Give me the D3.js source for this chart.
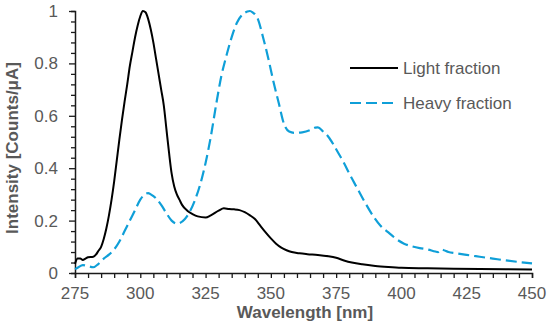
<!DOCTYPE html>
<html>
<head>
<meta charset="utf-8">
<script src="https://cdn.jsdelivr.net/npm/d3@7"></script>
<style>
    html, body { margin: 0; padding: 0; background: #fff; }
    svg { display: block; font-family: "Liberation Sans", Arial, sans-serif; }
    .tick-label { fill: #595959; font-size: 17px; }
    .axis-title { fill: #595959; font-size: 17px; font-weight: bold; }
</style>
</head>
<body>
<svg id="chart" width="550" height="329"></svg>
<script>
// Spectra
const lightWl = [275, 276, 277, 278, 279, 280, 282, 283, 284, 285, 286, 287, 288, 289, 290, 291, 292, 293, 294, 295, 296, 297, 298, 299, 300, 301, 302, 303, 304, 305, 306, 307, 308, 309, 310, 311, 312, 313, 314, 315, 316, 318, 320, 322, 325, 327, 330, 332, 334, 336, 338, 340, 342, 344, 346, 348, 350, 352, 354, 356, 358, 361, 364, 368, 372, 375, 378, 381, 385, 390, 395, 400, 410, 420, 430, 440, 450];
const lightVals = [0.035, 0.055, 0.055, 0.05, 0.055, 0.06, 0.062, 0.07, 0.085, 0.1, 0.13, 0.17, 0.22, 0.28, 0.35, 0.43, 0.51, 0.585, 0.655, 0.72, 0.79, 0.845, 0.9, 0.945, 0.98, 1.0, 0.995, 0.97, 0.93, 0.88, 0.82, 0.76, 0.7, 0.64, 0.55, 0.46, 0.38, 0.33, 0.3, 0.28, 0.26, 0.238, 0.225, 0.216, 0.212, 0.22, 0.238, 0.247, 0.244, 0.243, 0.24, 0.232, 0.22, 0.205, 0.18, 0.155, 0.132, 0.112, 0.097, 0.087, 0.08, 0.075, 0.072, 0.069, 0.064, 0.058, 0.048, 0.04, 0.033, 0.027, 0.023, 0.02, 0.018, 0.016, 0.015, 0.014, 0.013];

const heavyWl = [275, 276, 278, 280, 282, 284, 286, 288, 290, 292, 294, 296, 298, 300, 302, 303, 304, 306, 308, 310, 312, 314, 315, 317, 319, 321, 323, 325, 327, 329, 331, 333, 335, 337, 339, 341, 342, 343, 345, 347, 349, 351, 353, 355, 357, 359, 362, 365, 367, 368, 370, 372, 374, 376, 378, 380, 383, 386, 389, 392, 395, 398, 401, 404, 407, 410, 413, 414, 415, 416, 418, 421, 425, 430, 435, 440, 445, 450];
const heavyVals = [0.015, 0.02, 0.03, 0.026, 0.022, 0.035, 0.055, 0.07, 0.09, 0.12, 0.16, 0.2, 0.24, 0.28, 0.302, 0.305, 0.3, 0.285, 0.26, 0.228, 0.2, 0.188, 0.19, 0.205, 0.235, 0.28, 0.34, 0.42, 0.52, 0.64, 0.75, 0.83, 0.9, 0.955, 0.985, 0.998, 1.0, 0.995, 0.97, 0.9, 0.82, 0.73, 0.65, 0.57, 0.54, 0.535, 0.537, 0.545, 0.555, 0.556, 0.54, 0.52, 0.49, 0.455, 0.42, 0.38, 0.325, 0.27, 0.22, 0.18, 0.155, 0.13, 0.112, 0.102, 0.095, 0.09, 0.082, 0.08, 0.09, 0.088, 0.08, 0.075, 0.069, 0.062, 0.055, 0.048, 0.042, 0.037];

const xTicks = [275, 300, 325, 350, 375, 400, 425, 450];
const yTicks = [0, 0.2, 0.4, 0.6, 0.8, 1];
const yTickLabels = ['0', '0.2', '0.4', '0.6', '0.8', '1'];
const seriesNames = ['Light fraction', 'Heavy fraction'];

(function() {
    'use strict';

    const svg = d3.select('#chart');
    const axisColor = '#1a1a1a';
    const lightColor = '#000000';
    const heavyColor = '#0f9fd8';

    const x = d3.scaleLinear().domain([275, 450]).range([75, 532]);
    const y = d3.scaleLinear().domain([0, 1]).range([273, 11]);

    // Axes (minor ticks every 5 nm / 0.04)
    const xAxis = d3.axisBottom(x)
        .tickValues(d3.range(275, 451, 5))
        .tickSize(5)
        .tickFormat('');
    const xg = svg.append('g').attr('transform', `translate(0, ${y(0)})`).call(xAxis);
    xg.select('.domain').attr('stroke', axisColor).attr('stroke-width', 1.5);
    xg.selectAll('.tick line').attr('stroke', axisColor).attr('stroke-width', 1.3);

    const yMinor = d3.range(0, 1.0001, 0.04);
    const yAxis = d3.axisLeft(y)
        .tickValues(yMinor)
        .tickSize(4)
        .tickFormat('');
    const yg = svg.append('g').attr('transform', `translate(${x(275)}, 0)`).call(yAxis);
    yg.select('.domain').attr('stroke', axisColor).attr('stroke-width', 1.5);
    yg.selectAll('.tick line').attr('stroke', axisColor).attr('stroke-width', 1.3)
        .attr('x2', d => yTicks.some(t => Math.abs(t - d) < 1e-6) ? -6 : -4);

    // Tick labels
    svg.append('g').selectAll('text')
        .data(xTicks)
        .join('text')
        .attr('class', 'tick-label')
        .attr('x', d => x(d))
        .attr('y', 299)
        .attr('text-anchor', 'middle')
        .text(d => d);

    svg.append('g').selectAll('text')
        .data(yTicks)
        .join('text')
        .attr('class', 'tick-label')
        .attr('x', 58)
        .attr('y', d => y(d) + 6)
        .attr('text-anchor', 'end')
        .text((d, i) => yTickLabels[i]);

    // Axis titles
    svg.append('text')
        .attr('class', 'axis-title')
        .attr('x', 305)
        .attr('y', 318)
        .attr('text-anchor', 'middle')
        .text('Wavelength [nm]');

    svg.append('text')
        .attr('class', 'axis-title')
        .attr('transform', 'translate(18, 148) rotate(-90)')
        .attr('text-anchor', 'middle')
        .text('Intensity [Counts/μA]');

    // Curves
    const line = d3.line()
        .x(d => x(d[0]))
        .y(d => y(d[1]))
        .curve(d3.curveMonotoneX);

    svg.append('path')
        .datum(heavyWl.map((w, i) => [w, heavyVals[i]]))
        .attr('d', line)
        .attr('fill', 'none')
        .attr('stroke', heavyColor)
        .attr('stroke-width', 2.2)
        .attr('stroke-dasharray', '11,5');

    svg.append('path')
        .datum(lightWl.map((w, i) => [w, lightVals[i]]))
        .attr('d', line)
        .attr('fill', 'none')
        .attr('stroke', lightColor)
        .attr('stroke-width', 2);

    // Legend
    const legend = svg.append('g');
    const legendRows = [
        { name: seriesNames[0], color: lightColor, dash: null, y: 68 },
        { name: seriesNames[1], color: heavyColor, dash: '11,5', y: 103 }
    ];
    legendRows.forEach(r => {
        legend.append('line')
            .attr('x1', 350).attr('x2', 398)
            .attr('y1', r.y).attr('y2', r.y)
            .attr('stroke', r.color)
            .attr('stroke-width', r.dash ? 2.2 : 2)
            .attr('stroke-dasharray', r.dash);
        legend.append('text')
            .attr('class', 'tick-label')
            .attr('x', 403)
            .attr('y', r.y + 6)
            .text(r.name);
    });
})();
</script>
</body>
</html>
